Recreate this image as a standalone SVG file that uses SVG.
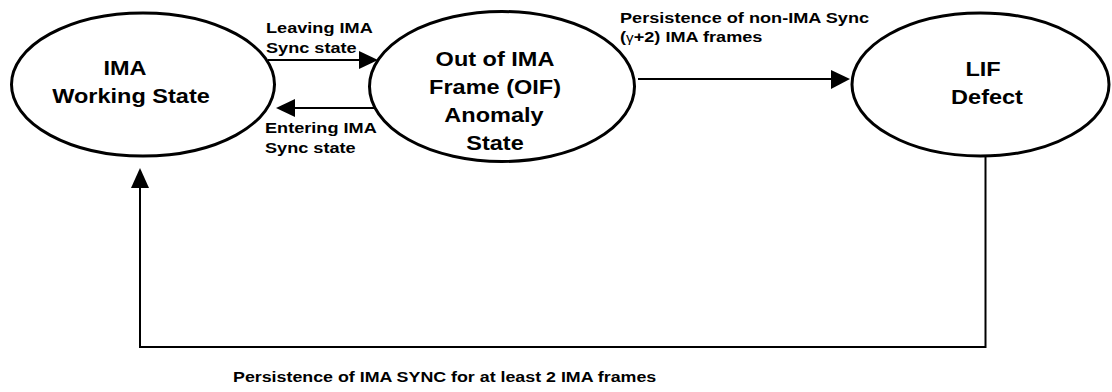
<svg xmlns="http://www.w3.org/2000/svg" width="1112" height="392" viewBox="0 0 1112 392">
<style>
.node{fill:#fff;stroke:#000;stroke-width:3}
.big{font-family:"Liberation Sans",Arial,sans-serif;font-weight:bold;font-size:21px;fill:#000;text-anchor:middle}
.small{font-family:"Liberation Sans",Arial,sans-serif;font-weight:bold;font-size:15.5px;fill:#000}
.conn{fill:none;stroke:#000;stroke-width:2}
.head{fill:#000;stroke:none}
</style>
<rect width="1112" height="392" fill="#fff"/>
<g id="connectors">
  <line class="conn" x1="268" y1="60" x2="362" y2="60"/>
  <polygon class="head" points="378,60 359,51 359,69"/>
  <line class="conn" x1="380" y1="108" x2="292" y2="108"/>
  <polygon class="head" points="276,108 295,99 295,117"/>
  <line class="conn" x1="638" y1="79" x2="834" y2="79"/>
  <polygon class="head" points="850,79 831,70 831,89"/>
  <polyline class="conn" points="985.5,157 985.5,347 140,347 140,185"/>
  <polygon class="head" points="140,168 131,188 149,188"/>
  <text class="small" transform="translate(266,33) scale(1.17,1)"><tspan x="0" y="0">Leaving IMA</tspan><tspan x="0" y="20">Sync state</tspan></text>
  <text class="small" transform="translate(265,133) scale(1.17,1)"><tspan x="0" y="0">Entering IMA</tspan><tspan x="0" y="20">Sync state</tspan></text>
  <text class="small" transform="translate(620,23) scale(1.17,1)"><tspan x="0" y="0">Persistence of non-IMA Sync</tspan><tspan x="0" y="19">(<tspan font-weight="normal" font-size="13px">γ</tspan>+2) IMA frames</tspan></text>
  <text class="small" transform="translate(233,382) scale(1.15,1)">Persistence of IMA SYNC for at least 2 IMA frames</text>
</g>
<g id="node-ima-working">
  <ellipse class="node" cx="143" cy="84.5" rx="131.5" ry="71.5"/>
  <text class="big" transform="translate(125,75) scale(1.12,1)">IMA</text>
  <text class="big" transform="translate(131,103) scale(1.12,1)">Working State</text>
</g>
<g id="node-oif">
  <ellipse class="node" cx="502" cy="86.5" rx="132.5" ry="75"/>
  <text class="big" transform="translate(495,66) scale(1.12,1)">Out of IMA</text>
  <text class="big" transform="translate(495,94) scale(1.12,1)">Frame (OIF)</text>
  <text class="big" transform="translate(494,122) scale(1.12,1)">Anomaly</text>
  <text class="big" transform="translate(495,150) scale(1.12,1)">State</text>
</g>
<g id="node-lif">
  <ellipse class="node" cx="980.5" cy="84.5" rx="128.5" ry="71.5"/>
  <text class="big" transform="translate(983,76) scale(1.12,1)">LIF</text>
  <text class="big" transform="translate(987,104) scale(1.12,1)">Defect</text>
</g>
</svg>
